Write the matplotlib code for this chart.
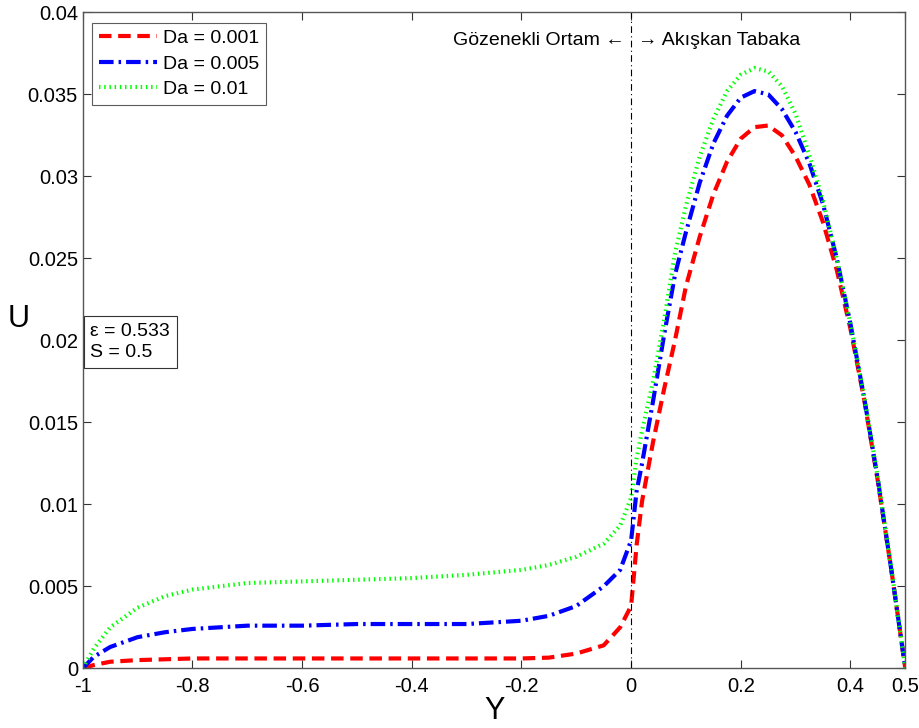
import matplotlib
matplotlib.use("Agg")
import matplotlib.pyplot as plt
import numpy as np

plt.rcParams['font.family'] = ['Liberation Sans', 'DejaVu Sans']

# Porous region (Y from -1 to 0)
y_por = [-1.0, -0.98, -0.95, -0.9, -0.85, -0.8, -0.7, -0.6, -0.5, -0.4, -0.3, -0.2, -0.15, -0.1, -0.05, -0.02, 0.0]
u1_por = [0.0, 0.0002, 0.0004, 0.0005, 0.00055, 0.0006, 0.0006, 0.0006, 0.0006, 0.0006, 0.0006, 0.0006, 0.00065, 0.0009, 0.0014, 0.0025, 0.0038]
u2_por = [0.0, 0.0007, 0.0013, 0.0019, 0.0022, 0.0024, 0.0026, 0.0026, 0.0027, 0.0027, 0.0027, 0.0029, 0.0032, 0.0038, 0.0050, 0.0060, 0.0078]
u3_por = [0.0, 0.0012, 0.0025, 0.0037, 0.0044, 0.0048, 0.0052, 0.0053, 0.0054, 0.0055, 0.0057, 0.0060, 0.0063, 0.0068, 0.0076, 0.0087, 0.0104]

# Fluid region (Y from 0 to 0.5)
y_fl = [0.0, 0.01, 0.02, 0.04, 0.06, 0.08, 0.1, 0.125, 0.15, 0.175, 0.2, 0.225, 0.25, 0.275, 0.3, 0.325, 0.35, 0.375, 0.4, 0.425, 0.45, 0.475, 0.5]
u1_fl = [0.0038, 0.0075, 0.0102, 0.0138, 0.0170, 0.0200, 0.0233, 0.0263, 0.0289, 0.0309, 0.0323, 0.0330, 0.0331, 0.0325, 0.0312, 0.0295, 0.0272, 0.0243, 0.0207, 0.0164, 0.0114, 0.0059, 0.0]
u2_fl = [0.0078, 0.0108, 0.0125, 0.0163, 0.0203, 0.0240, 0.0266, 0.0296, 0.0320, 0.0337, 0.0348, 0.0352, 0.0350, 0.0341, 0.0327, 0.0308, 0.0283, 0.0250, 0.0210, 0.0165, 0.0115, 0.0059, 0.0]
u3_fl = [0.0104, 0.0128, 0.0145, 0.0175, 0.0212, 0.0253, 0.0282, 0.0312, 0.0335, 0.0352, 0.0362, 0.0366, 0.0364, 0.0355, 0.0338, 0.0313, 0.0285, 0.0250, 0.0210, 0.0166, 0.0116, 0.0060, 0.0]

labels = ['Da = 0.001', 'Da = 0.005', 'Da = 0.01']
xticks = [-1, -0.8, -0.6, -0.4, -0.2, 0, 0.2, 0.4, 0.5]
xticklabels = ['-1', '-0.8', '-0.6', '-0.4', '-0.2', '0', '0.2', '0.4', '0.5']
yticks = [0, 0.005, 0.01, 0.015, 0.02, 0.025, 0.03, 0.035, 0.04]
yticklabels = ['0', '0.005', '0.01', '0.015', '0.02', '0.025', '0.03', '0.035', '0.04']

fig = plt.figure(figsize=(9.2, 7.28), dpi=100)
ax = fig.add_axes([0.090, 0.082, 0.894, 0.901])

Y1 = y_por + y_fl[1:]
ax.plot(Y1, u1_por + u1_fl[1:], color='#ff0000', lw=3, ls=(0, (3, 1.6)), label=labels[0])
ax.plot(Y1, u2_por + u2_fl[1:], color='#0000ff', lw=3, ls=(0, (3.5, 1.2, 0.6, 1.2)), label=labels[1])
ax.plot(Y1, u3_por + u3_fl[1:], color='#00ff00', lw=3, ls=(0, (0.35, 0.9)), label=labels[2])

ax.axvline(0, color='black', lw=0.8, ls=(0, (6, 3, 1, 3)))

ax.set_xlim(-1, 0.5)
ax.set_ylim(0, 0.04)
ax.set_xticks(xticks)
ax.set_xticklabels(xticklabels)
ax.set_yticks(yticks)
ax.set_yticklabels(yticklabels)
ax.tick_params(direction='in', top=True, right=True, labelsize=14.5, length=6, color='#333333')
ax.tick_params(axis='x', pad=6)
for s in ax.spines.values():
    s.set_color('#555555')
    s.set_linewidth(1.0)

ax.set_xlabel('Y', fontsize=22, labelpad=0)
ax.set_ylabel('U', fontsize=22, rotation=0)
ax.yaxis.set_label_coords(-0.078, 0.51)

ax.text(-0.012, 0.0383, 'Gözenekli Ortam ←', ha='right', va='center', fontsize=14)
ax.text(0.012, 0.0383, '→ Akışkan Tabaka', ha='left', va='center', fontsize=14)

ax.text(-0.986, 0.0199, 'ε = 0.533\nS = 0.5', ha='left', va='center', fontsize=14,
        linespacing=1.35,
        bbox=dict(boxstyle='square,pad=0.35', fc='white', ec='#333333', lw=0.8))

leg = ax.legend(loc='upper left', bbox_to_anchor=(0.011, 0.984), fontsize=14,
                frameon=True, fancybox=False, edgecolor='#333333', handlelength=3.0,
                borderaxespad=0.0, labelspacing=0.4, handletextpad=0.3, borderpad=0.35)
leg.get_frame().set_linewidth(0.8)

fig.savefig('out.png', dpi=100)
